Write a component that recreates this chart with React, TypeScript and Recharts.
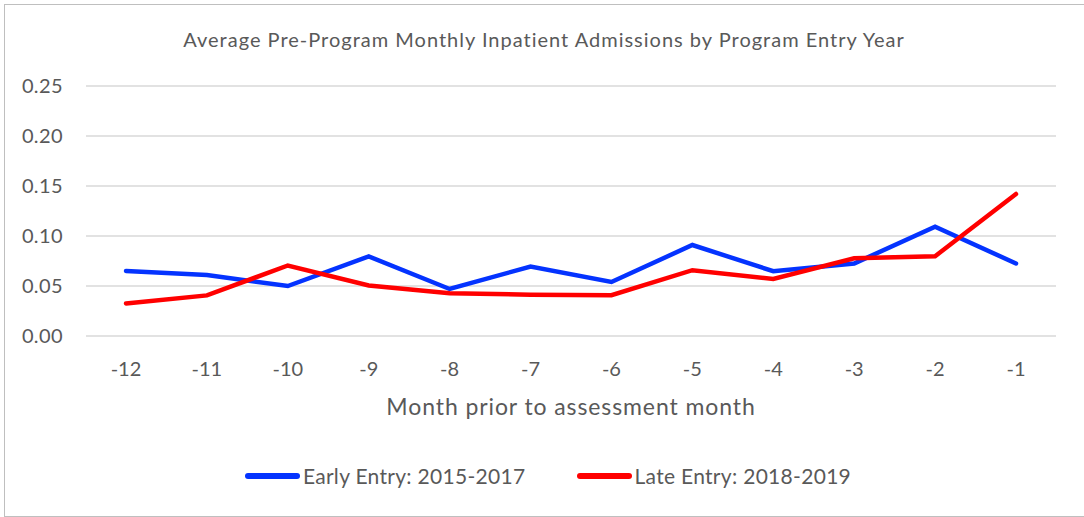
import React from "react";
import { CartesianGrid, Line, LineChart, XAxis, YAxis } from "recharts";

const months = ["-12", "-11", "-10", "-9", "-8", "-7", "-6", "-5", "-4", "-3", "-2", "-1"];
const earlyEntry = [0.065, 0.061, 0.05, 0.0795, 0.047, 0.0695, 0.054, 0.091, 0.0648, 0.0725, 0.1093, 0.0725];
const lateEntry = [0.0326, 0.0406, 0.0705, 0.0505, 0.0427, 0.0413, 0.0408, 0.0658, 0.0571, 0.0778, 0.0798, 0.142];
const yTicks = [0, 0.05, 0.1, 0.15, 0.2, 0.25];

const EARLY = "Early Entry: 2015-2017";
const LATE = "Late Entry: 2018-2019";
const TITLE = "Average Pre-Program Monthly Inpatient Admissions by Program Entry Year";
const X_TITLE = "Month prior to assessment month";

const data = months.map((m, i) => ({ month: m, early: earlyEntry[i], late: lateEntry[i] }));

const FONT = "Lato, 'Open Sans', sans-serif";
const TEXT = "#595959";

const LegendItem: React.FC<{ color: string; label: string }> = ({ color, label }) => (
  <span style={{ display: "inline-flex", alignItems: "center" }}>
    <span style={{ display: "inline-block", width: 55, height: 6, borderRadius: 3, background: color, marginRight: 3 }} />
    <span>{label}</span>
  </span>
);

export default function App() {
  return (
    <div style={{ position: "absolute", left: 0, top: 0, width: 1084, height: 517, overflow: "hidden", background: "#fff", fontFamily: FONT }}>
      <div style={{ position: "absolute", left: 4, top: 4, width: 1100, height: 511, border: "1px solid #BFBFBF" }} />
      <div style={{ position: "absolute", left: 4, top: 27, width: 1080, textAlign: "center", fontSize: 20, letterSpacing: 1, color: TEXT }}>
        {TITLE}
      </div>
      <div style={{ position: "absolute", left: 0, top: 0 }}>
        <LineChart width={1084} height={517} data={data} margin={{ top: 86, right: 28, left: 6, bottom: 102 }}>
          <CartesianGrid vertical={false} stroke="#D9D9D9" strokeWidth={1.5} />
          <XAxis
            dataKey="month"
            axisLine={false}
            tickLine={false}
            tickMargin={20}
            height={79}
            padding={{ left: 40, right: 40 }}
            tick={{ fill: TEXT, fontSize: 20, fontFamily: FONT }}
            label={{ value: X_TITLE, position: "insideBottom", offset: 0, fill: TEXT, fontSize: 23, fontFamily: FONT, letterSpacing: 0.9 }}
          />
          <YAxis
            domain={[0, 0.25]}
            ticks={yTicks}
            width={80}
            axisLine={false}
            tickLine={false}
            tickMargin={17}
            tickFormatter={(v: number) => v.toFixed(2)}
            tick={{ fill: TEXT, fontSize: 20, fontFamily: FONT, letterSpacing: 0.4 }}
          />
          <Line type="linear" dataKey="early" name={EARLY} stroke="#0433FF" strokeWidth={4.5} strokeLinecap="round" dot={false} isAnimationActive={false} />
          <Line type="linear" dataKey="late" name={LATE} stroke="#FF0000" strokeWidth={4.5} strokeLinecap="round" dot={false} isAnimationActive={false} />
        </LineChart>
      </div>
      <div style={{ position: "absolute", left: 6, top: 463, width: 1084, display: "flex", justifyContent: "center", gap: 51, fontSize: 21, letterSpacing: 0.3, color: TEXT }}>
        <LegendItem color="#0433FF" label={EARLY} />
        <LegendItem color="#FF0000" label={LATE} />
      </div>
    </div>
  );
}
